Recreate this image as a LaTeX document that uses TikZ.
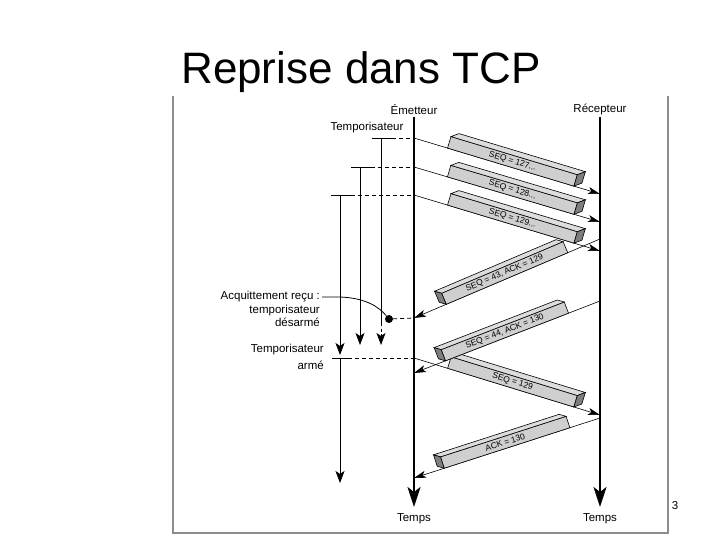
\documentclass[tikz,border=0pt]{standalone}
\usepackage{fontspec}
\setmainfont{Liberation Sans}
\usetikzlibrary{positioning,calc,arrows.meta}
\definecolor{barface}{HTML}{CFCFCF}
\definecolor{bartop}{HTML}{DDDDDD}
\definecolor{barend}{HTML}{7E7E7E}
\definecolor{framegrey}{HTML}{8C8C8C}

% faces of a segment bar: node, dark end (east/west), depth
\newcommand{\prisme}[3]{%
  \filldraw[fill=bartop, draw=black, line width=0.6pt] (#1.north west) -- (#1.north east) -- ++(#3) -- ($(#1.north west)+(#3)$) -- cycle;
  \filldraw[fill=barend, draw=black, line width=0.6pt] (#1.north #2) -- (#1.south #2) -- ++(#3) -- ($(#1.north #2)+(#3)$) -- cycle;
}

\begin{document}
\begin{tikzpicture}[x=1pt, y=-1pt,
    every node/.style={font=\fontsize{11.5}{13}\selectfont, inner sep=1pt},
    axis/.style={line width=2.2pt, -{Stealth[length=20pt, width=13pt, inset=5pt]}},
    msg/.style={line width=0.6pt, -{Stealth[length=12pt, width=7pt, inset=3pt]}},
    timer/.style={line width=0.8pt, -{Stealth[length=12pt, width=9pt, inset=3pt]}},
    tick/.style={line width=0.8pt},
    tickdash/.style={line width=0.8pt, dash pattern=on 4pt off 3pt},
    bar/.style={sloped, anchor=south, draw, fill=barface, line width=0.6pt, minimum width=132pt,
                minimum height=12pt, inner sep=0pt, outer sep=0pt, font=\fontsize{8.5}{9}\selectfont}]
    \useasboundingbox (0,0) rectangle (720,540);

    \node (titre) [anchor=base, font=\fontsize{44}{48}\selectfont] at (361,84) {Reprise dans TCP};
    \draw[framegrey, line width=1.2pt] (173,96) -- (173,533) -- (668,533) -- (668,96);
    \node (page) at (675,506) {3};

    % time axes
    \coordinate (Etop) at (414,117);
    \coordinate (Ebot) at (414,507);
    \coordinate (Rtop) at (600,117);
    \coordinate (Rbot) at (600,507);
    \node (emet) [above=1pt of Etop] {Émetteur};
    \node (recep) [above=1pt of Rtop] {Récepteur};
    \node (tpsE) [below=5pt of Ebot] {Temps};
    \node (tpsR) [below=5pt of Rbot] {Temps};
    \draw[axis] (Etop) -- (Ebot);
    \draw[axis] (Rtop) -- (Rbot);

    % events on the axes
    \coordinate (e127) at (414,138);
    \coordinate (e128) at (414,167);
    \coordinate (e129) at (414,195);
    \coordinate (eack1) at (414,318);
    \coordinate (e129b) at (414,358);
    \coordinate (eack2) at (414,373);
    \coordinate (eack3) at (414,478);
    \coordinate (r127) at (600,194);
    \coordinate (r128) at (600,222);
    \coordinate (rack1) at (600,239);
    \coordinate (r129) at (600,251);
    \coordinate (rack2) at (600,301);
    \coordinate (r129b) at (600,415);
    \coordinate (rack3) at (600,418);

    % timers
    \node (tempo) at (367,128) {Temporisateur};
    \coordinate (t1) at (381,138);
    \coordinate (t2) at (360,167);
    \coordinate (t3) at (340,195);
    \coordinate (t4) at (340,358);
    \draw[tick] ([xshift=-9pt]t1) -- ([xshift=11pt]t1);
    \draw[tickdash] ([xshift=11pt]t1) -- (e127);
    \draw[tick] ([xshift=-9pt]t2) -- ([xshift=11pt]t2);
    \draw[tickdash] ([xshift=11pt]t2) -- (e128);
    \draw[tick] ([xshift=-9pt]t3) -- ([xshift=11pt]t3);
    \draw[tickdash] ([xshift=11pt]t3) -- (e129);
    \draw[tick] ([xshift=-8pt]t4) -- ([xshift=8pt]t4);
    \draw[tickdash] ([xshift=8pt]t4) -- (e129b);

    \coordinate (t1stop) at (381,323);
    \draw[tick] (t1) -- (t1stop);
    \draw[timer, dash pattern=on 3pt off 2.5pt] (t1stop) -- (381,345);
    \draw[timer] (t2) -- (360,345);
    \draw[timer] (t3) -- (340,355);
    \draw[timer] (t4) -- (340,483);

    \node (acq) [anchor=north east, align=right, font=\fontsize{11.5}{13.5}\selectfont] at (321,290)
        {Acquittement reçu :\\temporisateur\\désarmé};
    \node (arme) [anchor=north east, align=right, font=\fontsize{11.5}{16.5}\selectfont] at (325,343)
        {Temporisateur\\armé};
    \node (stop) [circle, fill, inner sep=0pt, minimum size=8pt] at (389,319) {};
    \coordinate (acqfin) at (322,297);
    \draw[tick] (acqfin) -- ++(18,0) .. controls +(26,1) and +(-10,-12) .. (stop);
    \draw[tickdash] (stop) -- (eack1);

    % segments
    \draw[msg] (e127) -- node[bar, pos=0.52] (s127) {SEQ = 127...} (r127);
    \prisme{s127}{east}{8,-3}
    \draw[msg] (e128) -- node[bar, pos=0.52] (s128) {SEQ = 128...} (r128);
    \prisme{s128}{east}{8,-3}
    \draw[msg] (e129) -- node[bar, pos=0.52] (s129) {SEQ = 129...} (r129);
    \prisme{s129}{east}{8,-3}
    \draw[msg] (rack1) -- node[bar, pos=0.5] (a129) {SEQ = 43, ACK = 129} (eack1);
    \prisme{a129}{west}{-7,-2}
    \draw[msg] (e129b) -- node[bar, pos=0.52] (s129b) {SEQ = 129} (r129b);
    \prisme{s129b}{east}{8,-3}
    \draw[msg] (rack2) -- node[bar, pos=0.5] (a130) {SEQ = 44, ACK = 130} (eack2);
    \prisme{a130}{west}{-7,-2}
    \draw[msg] (rack3) -- node[bar, pos=0.5] (a130b) {ACK = 130} (eack3);
    \prisme{a130b}{west}{-7,-2}
\end{tikzpicture}
\end{document}
